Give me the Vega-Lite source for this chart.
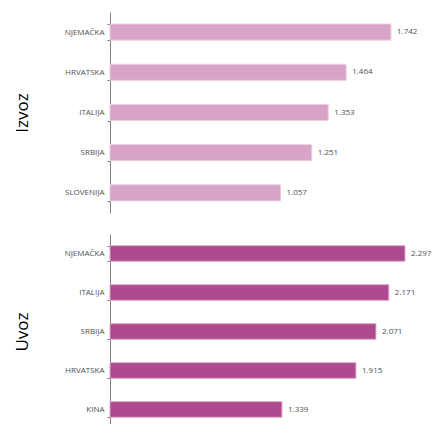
{
  "$schema": "https://vega.github.io/schema/vega-lite/v6.json",
  "padding": {"left": 13, "top": 8, "right": 0, "bottom": 0},
  "background": "white",
  "spacing": 17,
  "config": {
    "view": {"stroke": null},
    "font": "Open Sans",
    "axis": {"labelFont": "Open Sans", "titleFont": "Open Sans"}
  },
  "datasets": {
    "izvoz": [
      {"zemlja": "NJEMAČKA", "vrijednost": 1742, "oznaka": "1.742"},
      {"zemlja": "HRVATSKA", "vrijednost": 1464, "oznaka": "1.464"},
      {"zemlja": "ITALIJA", "vrijednost": 1353, "oznaka": "1.353"},
      {"zemlja": "SRBIJA", "vrijednost": 1251, "oznaka": "1.251"},
      {"zemlja": "SLOVENIJA", "vrijednost": 1057, "oznaka": "1.057"}
    ],
    "uvoz": [
      {"zemlja": "NJEMAČKA", "vrijednost": 2297, "oznaka": "2.297"},
      {"zemlja": "ITALIJA", "vrijednost": 2171, "oznaka": "2.171"},
      {"zemlja": "SRBIJA", "vrijednost": 2071, "oznaka": "2.071"},
      {"zemlja": "HRVATSKA", "vrijednost": 1915, "oznaka": "1.915"},
      {"zemlja": "KINA", "vrijednost": 1339, "oznaka": "1.339"}
    ]
  },
  "vconcat": [
    {
      "width": 300,
      "height": 201,
      "data": {"name": "izvoz"},
      "encoding": {
        "y": {
          "field": "zemlja", "type": "nominal", "sort": null,
          "scale": {"paddingInner": 0.6, "paddingOuter": 0.3},
          "axis": {
            "title": "Izvoz", "titleFontSize": 17, "titleFontWeight": "normal", "titleColor": "#000000",
            "titlePadding": 33,
            "labelFontSize": 8, "labelColor": "#505050", "labelPadding": 3,
            "domainColor": "#808080", "tickColor": "#808080", "tickSize": 3,
            "tickBand": "extent", "grid": false
          }
        },
        "x": {
          "field": "vrijednost", "type": "quantitative",
          "scale": {"domain": [0, 1860], "nice": false},
          "axis": null
        }
      },
      "layer": [
        {"mark": {"type": "bar", "color": "#D7A3C7", "stroke": "#EBCCE0", "strokeWidth": 1}},
        {"mark": {"type": "text", "align": "left", "baseline": "middle", "dx": 6, "fontSize": 8, "color": "#505050"},
         "encoding": {"text": {"field": "oznaka"}}}
      ]
    },
    {
      "width": 300,
      "height": 195,
      "data": {"name": "uvoz"},
      "encoding": {
        "y": {
          "field": "zemlja", "type": "nominal", "sort": null,
          "scale": {"paddingInner": 0.6, "paddingOuter": 0.3},
          "axis": {
            "title": "Uvoz", "titleFontSize": 17, "titleFontWeight": "normal", "titleColor": "#000000",
            "titlePadding": 33,
            "labelFontSize": 8, "labelColor": "#505050", "labelPadding": 3,
            "domainColor": "#808080", "tickColor": "#808080", "tickSize": 3,
            "tickBand": "extent", "grid": false
          }
        },
        "x": {
          "field": "vrijednost", "type": "quantitative",
          "scale": {"domain": [0, 2336], "nice": false},
          "axis": null
        }
      },
      "layer": [
        {"mark": {"type": "bar", "color": "#AD4B8E", "stroke": "#DDA5CB", "strokeWidth": 1}},
        {"mark": {"type": "text", "align": "left", "baseline": "middle", "dx": 6, "fontSize": 8, "color": "#505050"},
         "encoding": {"text": {"field": "oznaka"}}}
      ]
    }
  ]
}
